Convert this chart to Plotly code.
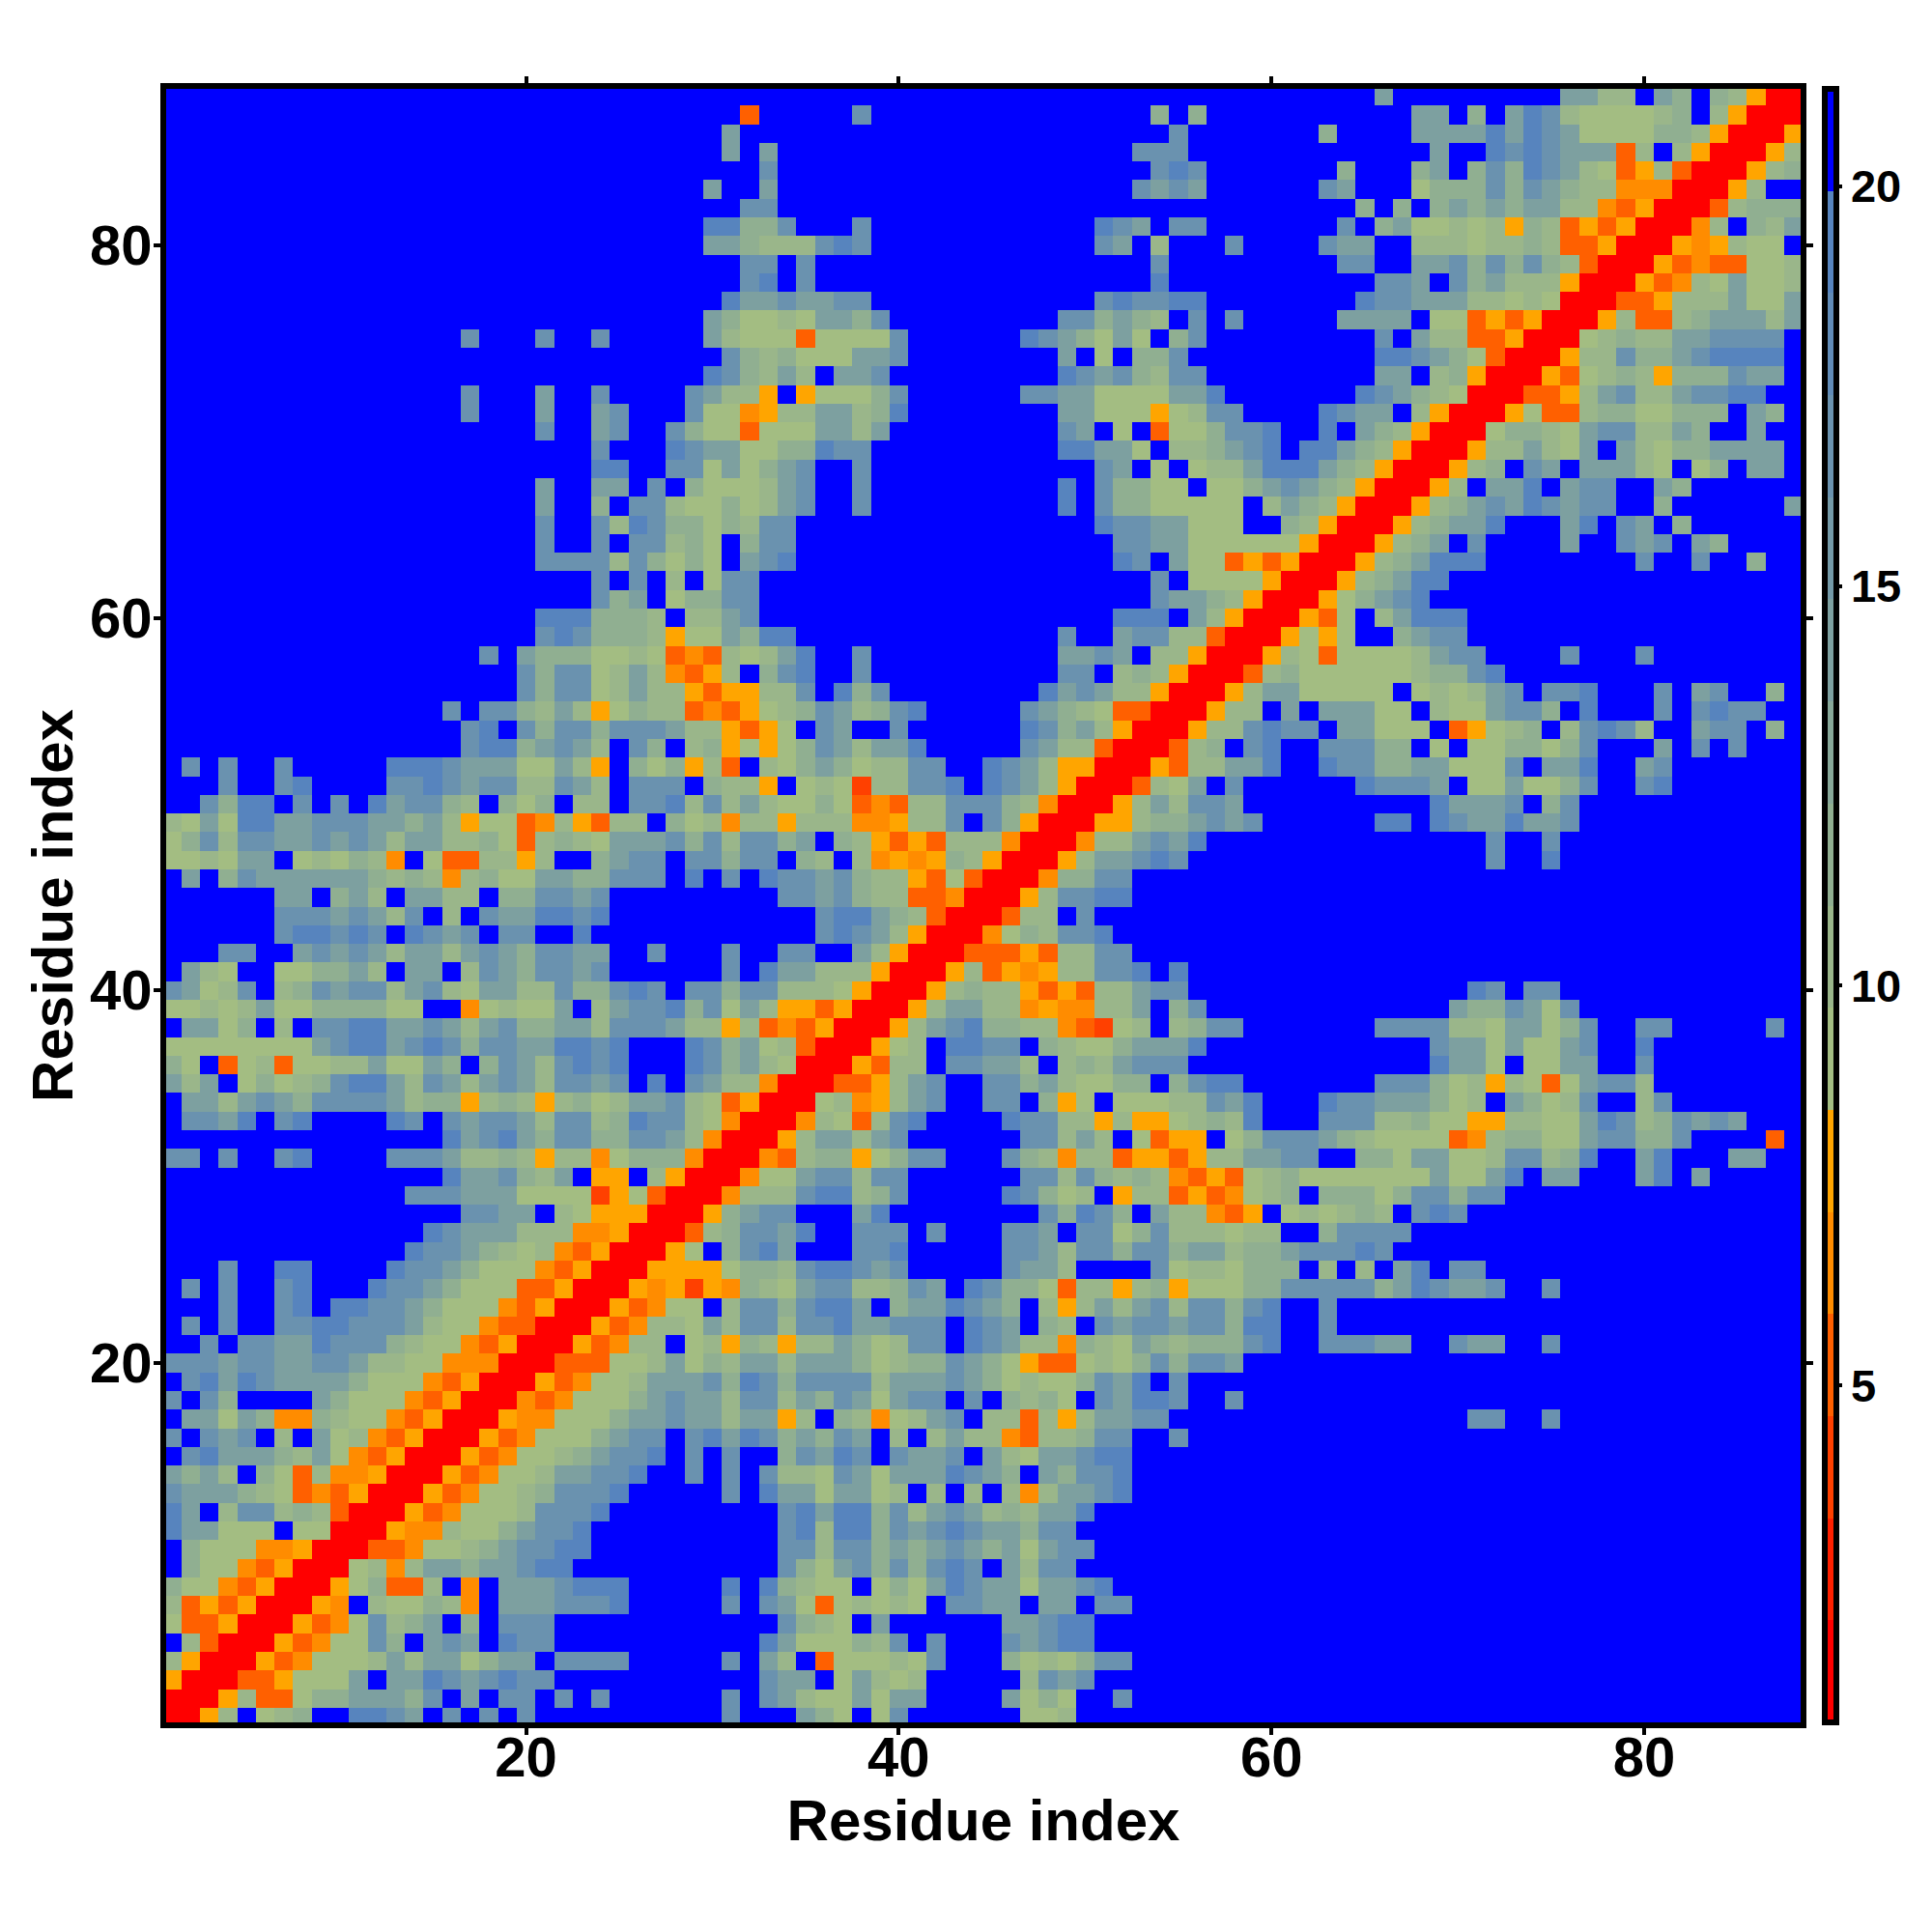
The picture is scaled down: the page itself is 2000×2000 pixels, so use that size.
import plotly.graph_objects as go

# Distance map: upper-left triangle, one string per residue (y index 88 down to 2).
# Groups hold ten columns each, "_" is a group of ten far (blue) cells.
ROWS_88_TO_2 = [
"_ _ _ _ _ _ .....m.... .....mmhh. mg.ghar",
"_ _ _ .R.....t.. _ ...g.g.... .......mm. g.msthllll hg.har",
"_ _ _ m......... _ ....t..... ..g....mmm msmstmllll gghar",
"_ _ _ m.m....... _ ..ttt..... ........m. .ststmmmRh .har",
"_ _ _ ..t....... _ ...tst.... ...g...gm. gtgstmhlRa hRr",
"_ _ .........m ..m....... _ ..tmtm.... ..tm...lgg gtgtmghhoo or",
"_ _ _ .tt....... _ _ ....g.g.gm gmgmmhhoRa r",
"_ _ .........s sggt...t.. _ stm.tt.... ...t.gmllh lhaghRaRar",
"_ _ .........m mghhhtst.. _ tm.h...t.. ..tmm..hhh lhhghRRar",
"_ _ _ .tt.t..... _ ...t...... ...tt..mmt gtgtghRr",
"_ _ _ .ts.t..... _ ...s...... .....ttm.t gmhhhar",
"_ _ _ smmtmmtt.. _ tsttss.... ....sttmmm hhlhlr",
"_ _ .........m gllhlmmgt. ........tt gmgh.t.t.. ...mmmm.ll RaRar",
"_ ......t... t..t.....m hlllRllllt ......stmg lml.gt.... .....t.mhh RRar",
"_ _ _ tghglllmmt ........m. l.ggt..... .....sstmg lRr",
"_ _ .........s tghmh.mmt. ........st mtghtt.... .....mm.hg ar",
"_ ......t... m..t....tm hha.alllgt ......ttmm llllmms... ....stmghl r",
"_ ......t... m..mt...tl loahhmmhgs ........mm lllalhtt.. ..stmm.har",
"_ _ t..mt..tgl lRlllmmhm. ........tm .l.Rllgtts ..s.mghar",
"_ _ ...t...stm mllggstt.. ........ss mml.hhgmts .ssmghar",
"_ _ ...ss..ttl mlgmt..t.. _ tm.l.lhhms ssmghar",
"_ _ m..mm.t.gl llhmt..t.. ........s. tggll.llgm tmghar",
"_ _ m..g.tthll glhmt..t.. ........s. tgglllll.h mghar",
"_ _ t..thstggl ghtt...... _ sttmmlll.. ghar",
"_ _ t..t.tthgl .gtt...... _ .ttmmlllll lar",
"_ _ tttthtglgl .mts...... _ .st.mllRaR ar",
"_ _ ...t.t.h.l tt........ _ ...t.lllla r",
"_ _ ...tgm.lgg tt........ _ ...tmmghar",
"_ _ sssgggh.hh mt........ _ .sss.mhar",
"_ _ tstggghall mgss...... ........t. .mtthhRr",
"_ .......t.m gggllhlRoR hlhms..t.. ........mm tm.hhar",
"_ .........t gttlhmhoRa h.gts..t.. ........tt .hghar",
"_ .........t gttlhmhhaR aahht.sgt. .......smt mhhar",
"_ .....t.ttg hmhalghhRo Ralhgtmhgt s.....tmgh lRRr",
"_ ......ts.t gttgtttmhh aRal.tm..t ......stgm har",
"_ ......tssg mtmh.tg.hg alalgtmhmm s.....tmhh Rr",
".t.t..t... ..ssstmmml lmha.glgah R.hlgmglhh tt..stmhaa r",
"...t..ts.. ..ttstmtth htmh.ttt.g hha.lhlDhh tts.stmhar",
"..tgss.t.t .smttgh.gl g.hh.ttsht hmhllglRoR hhtttghor",
"hlmlssmmtt tmmgmhallR ohaRhh.glh ohhahhhooa hht.tgar",
"lgthttmmtm tmhmmhhglR hghlmmmtgt httgm.ghaR aRhhhor",
"llhlmm.lhl gho.lRRhha h..gmtt.tt gtt.gh.hoa oaghar",
".m.gtmmmmm mghghohgll mmggttt.s. t.sttmtghh aRlRr",
"......mm.g mh.mmhh.gg ttmt...... ...ttmtghh RRor",
"......tttm tmht.h.tmm ssts...... .....tssmg hRr",
"......tsst st.stmt.tt ..s....... .....tstmh ar",
"...tt..mtm tmhmmhmtmg ttmm..t... t..tt..mha r",
".mhl..llgg mh.mm.htmg ttmt...... t.smmhhhar",
"tmlht.hgtm tthmthlmmh htggtst.tt gtthhhlar",
"llhlhmllgg ggll..olhl lm.hmttsgt lmhaaRar",
".mmlg.h.tt ssmmtmhmtg gmmhtttmhh ahRoRar",
"llllllllmt ssmtstgttm mssts...st gmlhRr",
"gl.RlhRllh hmllmg.gtm htsts...st gmhlr",
"mhm.lglhgt ssmhtmhmtm httmt.s.tm hhor",
".mmhmtmgtt ttmhggahgh ahglhmmthl Rar",
".ttms.ts.. ..st.tmttm htthgstthl or",
"_ .....smtsm gttggttmho r",
"tt.t..ts.. ..tttmhhgh ahholgggor",
"_ .....smmtg hm.aa.har",
"_ ...tttmmml lllDalRr",
"_ ......ttmm .hlaaar",
"_ ....stmmmh hhooar",
"_ ...sttmghl hoRar",
"...t..ss.. ..sttmglll oRar",
".t.t..ts.. .sttmglllR Rar",
"...t..ts.s sttmgllloR ar",
".t.t..ttss tttmhlloRR r",
"..t.ttmmst ttghlloRar",
"tttmttmmtt mhhllooor",
".tsmstmmmm gllloRar",
"t.tg....mg llloRar",
".mmlmgoogh lloRar",
"t.tmt.h.ml hoRar",
".tsmmmghml oRar",
"mgmh.glRho oar",
"tmmmghlRoR ar",
"sm.htthghR r",
"smmlll.llr",
".glllooar",
".glloRar",
"glloRar",
"hRaRar",
"lRRar",
".hRr",
"har",
"ar",
"r",
]

LEVEL_VALUES = {
    "r": 1.4, "D": 4.0, "R": 5.3, "o": 6.5, "a": 7.8,
    "l": 9.1, "h": 10.4, "g": 11.7, "m": 14.2, "t": 16.8, "s": 19.3, ".": 20.6,
}
DIAGONAL_VALUE = 1.4
RESIDUES = list(range(1, 89))

Z_MIN, Z_MAX = 0.785, 21.22
BAND_COLORS = [
    "#FF0000", "#FF2000", "#FF4000", "#FF6000", "#FF8C00", "#FFA500",
    "#A3BD82", "#9AB68A", "#90AF91", "#87A899", "#7DA0A0",
    "#749AA8", "#6A92AF", "#618BB7", "#5784BE", "#0000FF",
]

n = len(RESIDUES)
z = [[DIAGONAL_VALUE] * n for _ in range(n)]
for offset, text in enumerate(ROWS_88_TO_2):
    residue = n - offset
    cells = "".join("." * 10 if g == "_" else g for g in text.split())
    cells = cells.ljust(residue - 1, ".")[: residue - 1]
    for col, code in enumerate(cells):
        z[residue - 1][col] = LEVEL_VALUES[code]
        z[col][residue - 1] = LEVEL_VALUES[code]

bands = len(BAND_COLORS)
colorscale = []
for i, c in enumerate(BAND_COLORS):
    colorscale.append([i / bands, c])
    colorscale.append([(i + 1) / bands, c])

FONT = "Liberation Sans"
PAGE_OFFSET = 8
L, R, T, B = 172 - PAGE_OFFSET, 1864 - PAGE_OFFSET, 92 - PAGE_OFFSET, 1783 - PAGE_OFFSET

axis = dict(
    range=[0.69, 88.4],
    tickvals=[20, 40, 60, 80],
    ticks="outside",
    ticklen=7,
    tickwidth=4,
    tickcolor="black",
    showline=True,
    linecolor="black",
    linewidth=6,
    mirror="ticks",
    showgrid=False,
    zeroline=False,
    tickfont=dict(family=FONT, size=58, color="black", weight="bold"),
)
title_font = dict(family=FONT, size=60, color="black", weight="bold")

fig = go.Figure(
    go.Heatmap(
        z=z,
        x=RESIDUES,
        y=RESIDUES,
        zmin=Z_MIN,
        zmax=Z_MAX,
        colorscale=colorscale,
        colorbar=dict(
            x=(1888.5 - 172) / (R - L),
            xanchor="left",
            xpad=0,
            y=0.5,
            yanchor="middle",
            len=1,
            ypad=0,
            thickness=12,
            outlinecolor="black",
            outlinewidth=6,
            ticks="outside",
            ticklen=3,
            tickwidth=4,
            tickcolor="black",
            tickvals=[5, 10, 15, 20],
            tickfont=dict(family=FONT, size=47, color="black", weight="bold"),
        ),
    )
)
fig.update_layout(
    width=2000,
    height=2000,
    autosize=False,
    paper_bgcolor="white",
    plot_bgcolor="white",
    margin=dict(l=L, r=2000 - R, t=T, b=2000 - B, pad=0),
    xaxis=dict(axis, ticklabelstandoff=-27, title=dict(text="Residue index", standoff=0, font=title_font)),
    yaxis=dict(axis, ticklabelstandoff=-10, title=dict(text="Residue index", standoff=0, font=title_font)),
)
fig.write_html("out.html")
